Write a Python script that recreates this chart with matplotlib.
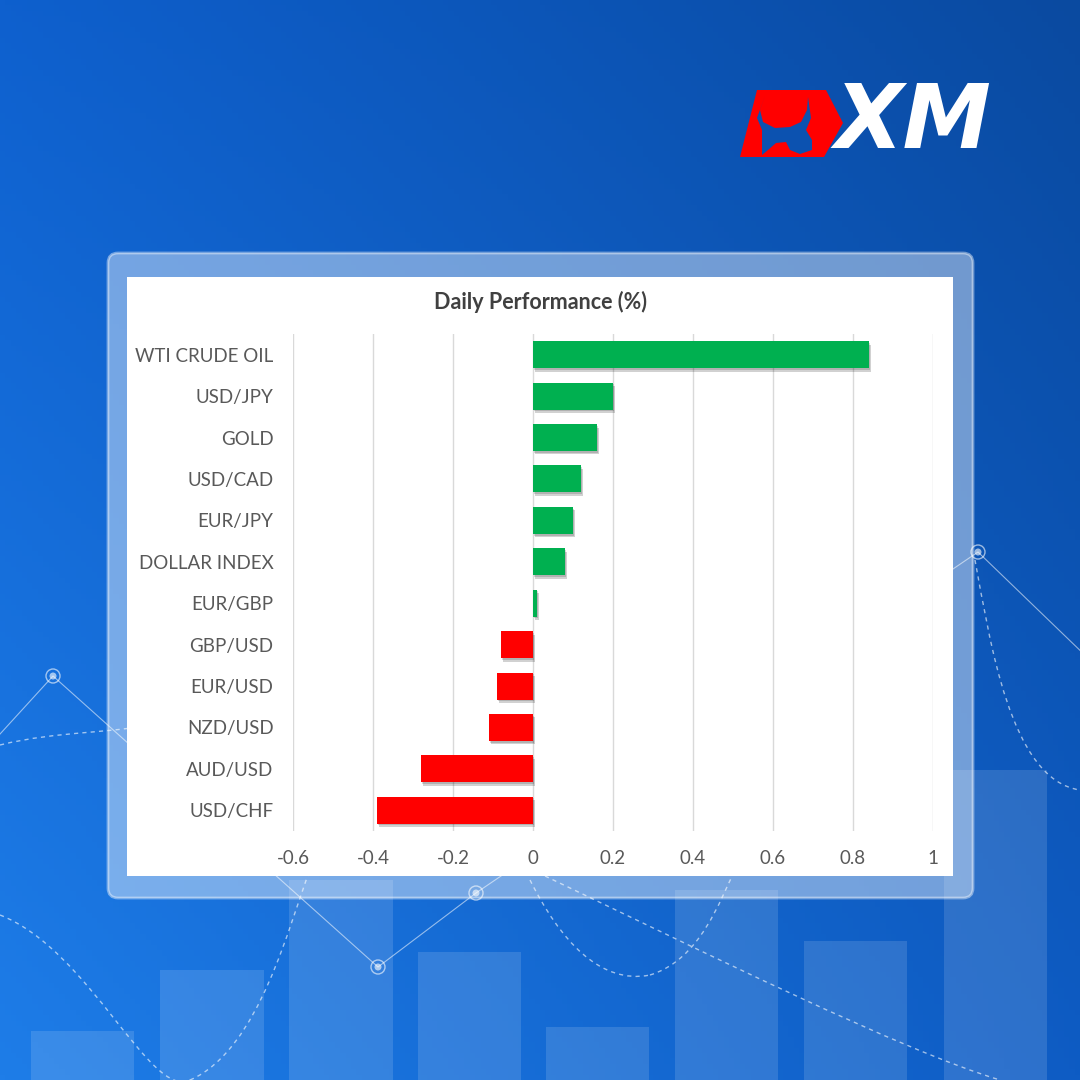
#!/usr/bin/env python3
"""
Daily performance bar chart on the blue XM card.
"""

import numpy as np
import matplotlib
matplotlib.use('Agg')
import matplotlib.pyplot as plt
from matplotlib.patches import FancyBboxPatch, Rectangle, Polygon, Circle, PathPatch
from matplotlib.path import Path
import matplotlib.patheffects as pe

# chart data (top to bottom)
instruments = ['WTI CRUDE OIL', 'USD/JPY', 'GOLD', 'USD/CAD', 'EUR/JPY', 'DOLLAR INDEX',
               'EUR/GBP', 'GBP/USD', 'EUR/USD', 'NZD/USD', 'AUD/USD', 'USD/CHF']
performance = [0.84, 0.20, 0.16, 0.12, 0.10, 0.08, 0.01, -0.08, -0.09, -0.11, -0.28, -0.39]
x_ticks = [-0.6, -0.4, -0.2, 0, 0.2, 0.4, 0.6, 0.8, 1]
x_tick_labels = ['-0.6', '-0.4', '-0.2', '0', '0.2', '0.4', '0.6', '0.8', '1']
chart_title = 'Daily Performance (%)'

# decorative background columns (left, right, top) in pixels
deco_left = [31, 160, 289, 418, 546, 675, 804, 944]
deco_right = [134, 264, 393, 521, 649, 778, 907, 1047]
deco_top = [1031, 970, 880, 952, 1027, 890, 941, 770]

# decorative polyline with markers
line_x = [-10, 53, 378, 476, 978, 1090]
line_y = [745, 676, 967, 893, 552, 660]

GREEN = '#00b050'
RED = '#ff0000'
TEXT = '#595959'


def main():
    plt.rcParams['font.family'] = ['Lato', 'DejaVu Sans']

    fig = plt.figure(figsize=(10.8, 10.8), dpi=100)

    # background
    bg = fig.add_axes([0, 0, 1, 1])
    bg.set_xlim(0, 1080)
    bg.set_ylim(1080, 0)
    bg.axis('off')

    tl = np.array([14, 96, 206]) / 255
    tr = np.array([10, 74, 160]) / 255
    bl = np.array([30, 125, 232]) / 255
    br = np.array([14, 92, 196]) / 255
    u = np.linspace(0, 1, 200)[None, :, None]
    v = np.linspace(0, 1, 200)[:, None, None]
    grad = (1 - v) * ((1 - u) * tl + u * tr) + v * ((1 - u) * bl + u * br)
    bg.imshow(grad, extent=[0, 1080, 1080, 0], aspect='auto', zorder=0)

    for l, r, t in zip(deco_left, deco_right, deco_top):
        bg.add_patch(Rectangle((l, t), r - l, 1080 - t, facecolor='white',
                               alpha=0.13, edgecolor='none', zorder=1))

    bg.plot(line_x, line_y, color='white', lw=0.8, alpha=0.55, zorder=2)
    for px, py in zip(line_x[1:-1], line_y[1:-1]):
        bg.add_patch(Circle((px, py), 7, facecolor='none', edgecolor='white',
                            lw=1, alpha=0.6, zorder=3))
        bg.add_patch(Circle((px, py), 3.5, facecolor='white', alpha=0.6, zorder=3))

    # dashed curves
    curves = [
        [(0, 745), (60, 730), (110, 735), (180, 720)],
        [(0, 915), (90, 950), (150, 1100), (190, 1080)],
        [(190, 1080), (260, 1050), (290, 920), (310, 870)],
        [(530, 880), (560, 940), (600, 985), (650, 975)],
        [(650, 975), (700, 960), (720, 900), (735, 870)],
        [(545, 876), (700, 950), (900, 1050), (1000, 1080)],
        [(975, 560), (990, 640), (1010, 780), (1080, 790)],
    ]
    for pts in curves:
        path = Path(pts, [Path.MOVETO, Path.CURVE4, Path.CURVE4, Path.CURVE4])
        bg.add_patch(PathPatch(path, facecolor='none', edgecolor='white', lw=1,
                               ls=(0, (3, 3)), alpha=0.6, zorder=2))

    # XM logo
    bg.add_patch(Polygon([(740, 157), (757, 90), (826, 90), (843, 123), (824, 157)],
                         closed=True, facecolor='#ff0000', edgecolor='none', zorder=4))
    bull = [(765, 96), (760, 110), (763, 122), (775, 128), (790, 127), (801, 122),
            (807, 110), (808, 97), (811, 118), (806, 130), (812, 140), (812, 150),
            (800, 154), (790, 150), (786, 142), (776, 143), (768, 150), (762, 155),
            (762, 130), (757, 118)]
    bg.add_patch(Polygon(bull, closed=True, facecolor='#0c52b0', edgecolor='none', zorder=5))
    bg.text(913, 124, 'XM', color='white', fontsize=64, fontweight='black',
            style='italic', ha='center', va='center', family='DejaVu Sans', zorder=5)

    # panel
    bg.add_patch(FancyBboxPatch((108, 253), 865, 645,
                                boxstyle='round,pad=0,rounding_size=10',
                                facecolor='white', alpha=0.42, edgecolor='white',
                                lw=2, zorder=6))
    bg.add_patch(Rectangle((127, 277), 826, 599, facecolor='white',
                           edgecolor='none', zorder=7))

    fig.text(541 / 1080, 1 - 302 / 1080, chart_title, ha='center', va='center',
             fontsize=15.5, fontweight='bold', color='#404040')

    # chart
    ax = fig.add_axes([293 / 1080, 1 - 831 / 1080, 640 / 1080, 497 / 1080])
    ax.set_facecolor('none')
    y = np.arange(len(instruments))
    colors = [GREEN if v >= 0 else RED for v in performance]
    bars = ax.barh(y, performance, height=0.65, color=colors, zorder=3)
    for b in bars:
        b.set_path_effects([pe.SimplePatchShadow(offset=(1.5, -2.5), alpha=0.18,
                                                 shadow_rgbFace='black'),
                            pe.SimplePatchShadow(offset=(0.8, -1.2), alpha=0.15,
                                                 shadow_rgbFace='black'),
                            pe.Normal()])

    ax.set_xlim(-0.6, 1.0)
    ax.set_ylim(len(instruments) - 0.5, -0.5)
    ax.set_xticks(x_ticks)
    ax.set_xticklabels(x_tick_labels)
    ax.set_yticks(y)
    ax.set_yticklabels(instruments)
    ax.tick_params(axis='both', length=0, labelsize=13.5, labelcolor=TEXT)
    ax.tick_params(axis='y', pad=14)
    ax.tick_params(axis='x', pad=14)
    ax.grid(axis='x', color='#d9d9d9', lw=1, zorder=0)
    for s in ax.spines.values():
        s.set_visible(False)

    plt.savefig('out.png', dpi=100)


if __name__ == '__main__':
    main()
